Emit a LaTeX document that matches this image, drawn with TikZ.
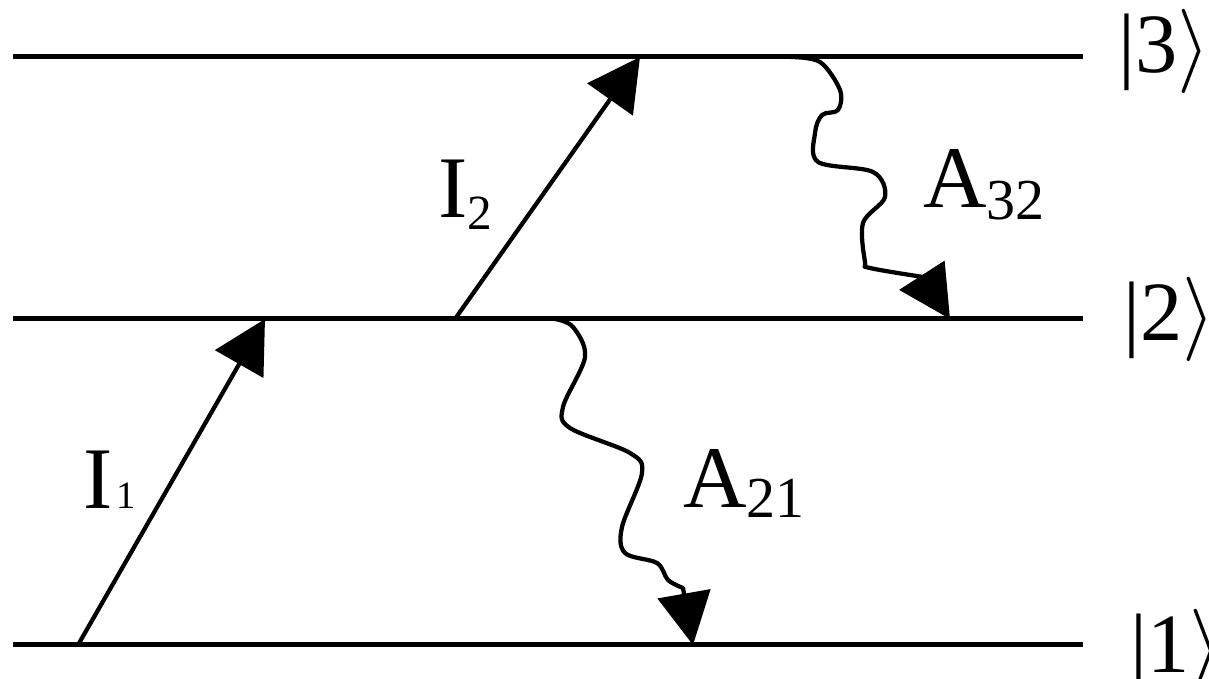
\RequirePackage{fix-cm}
\documentclass[tikz,border=0pt]{standalone}
\usepackage{fontspec}
\setmainfont{Liberation Serif}
\usetikzlibrary{positioning,arrows.meta}

\begin{document}
\begin{tikzpicture}[
  level/.style={line width=0.1cm},
  pump/.style={line width=0.085cm,-{Triangle[length=1.04cm,width=1.1cm]}},
  decay/.style={line width=0.085cm,line join=round,-{Triangle[length=1.04cm,width=1.06cm]}},
  ket/.style={font=\fontsize{48}{52}\selectfont,inner sep=0pt},
  lbl/.style={font=\fontsize{50}{54}\selectfont,inner sep=0pt,anchor=base west}
]
  \useasboundingbox (0,0) rectangle (24.18,13.58);

  % --- energy levels ---
  \coordinate (l1w) at (0.26,0.68);
  \coordinate (l1e) at (21.66,0.68);
  \coordinate (l2w) at (0.26,7.2);
  \coordinate (l2e) at (21.66,7.2);
  \coordinate (l3w) at (0.26,12.44);
  \coordinate (l3e) at (21.66,12.44);

  \draw[level] (l1w) -- (l1e);
  \draw[level] (l2w) -- (l2e);
  \draw[level] (l3w) -- (l3e);

  \node[ket,right=0.94cm of l1e,yshift=-0.12cm] (k1) {|1$\rangle$};
  \node[ket,right=0.8cm of l2e] (k2) {|2$\rangle$};
  \node[ket,right=0.7cm of l3e,yshift=0.12cm] (k3) {|3$\rangle$};

  % --- excitation ---
  \coordinate (i1a) at (1.56,0.68);
  \coordinate (i1b) at (5.3,7.2);
  \coordinate (i2a) at (9.1,7.2);
  \coordinate (i2b) at (12.8,12.44);

  \draw[pump] (i1a) -- (i1b);
  \draw[pump] (i2a) -- (i2b);

  % --- spontaneous decay ---
  \coordinate (a32a) at (15.8,12.44);
  \coordinate (a32b) at (19.0,7.2);
  \coordinate (a21a) at (11.1,7.2);
  \coordinate (a21b) at (13.86,0.68);

  \draw[decay] plot[smooth,tension=0.55] coordinates {(a32a) (16.4,12.34)
    (16.8,11.78) (16.76,11.38) (16.44,11.28) (16.3,10.92) (16.36,10.34)
    (17.46,10.14) (17.7,9.64) (17.26,9.12) (17.3,8.34) (17.4,8.22)
    (18.46,8.04)} -- (a32b);
  \draw[decay] plot[smooth,tension=0.55] coordinates {(a21a) (11.46,7.04)
    (11.7,6.44) (11.26,5.44) (11.4,5.02) (12.6,4.52) (12.84,4.12)
    (12.44,3.04) (12.5,2.52) (13.14,2.32) (13.36,1.98) (13.66,1.82)} -- (a21b);

  % labels
  \node[lbl] (lI1) at (1.66,3.4) {I\hspace{0.08cm}{\fontsize{22}{24}\selectfont 1}};
  \node[lbl] (lI2) at (8.76,9.22) {I\raisebox{-0.24cm}{\fontsize{28}{30}\selectfont 2}};
  \node[lbl] (lA32) at (18.46,9.42) {A\raisebox{-0.24cm}{\fontsize{33}{36}\selectfont 32}};
  \node[lbl] (lA21) at (13.66,3.42) {A\raisebox{-0.2cm}{\fontsize{33}{36}\selectfont 21}};
\end{tikzpicture}
\end{document}
